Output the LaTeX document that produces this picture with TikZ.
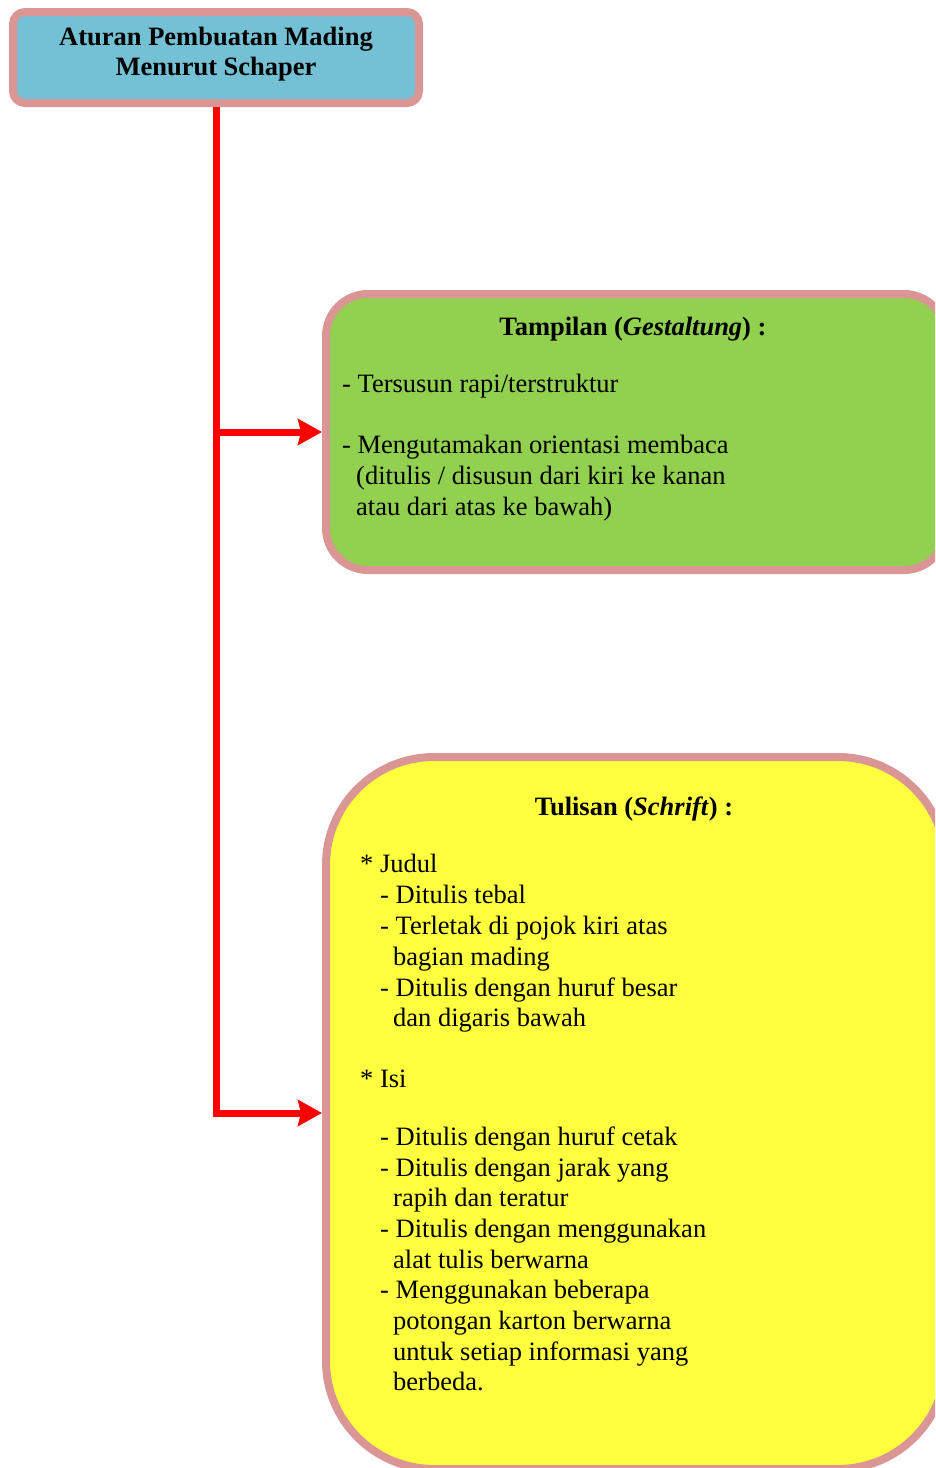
\documentclass[tikz,border=0pt]{standalone}
\usepackage{fontspec}
\setmainfont{Liberation Serif}
\usetikzlibrary{arrows.meta}
\definecolor{pinkb}{HTML}{D99694}
\definecolor{bluef}{HTML}{74C0D4}
\definecolor{greenf}{HTML}{92D050}
\definecolor{yellowf}{HTML}{FFFF40}
\tikzset{
  box/.style={draw=pinkb, line width=8pt, inner sep=0pt, outer sep=0pt},
  conn/.style={draw=red, line width=7pt, line join=miter, -{Stealth[length=24pt,width=26pt,inset=3pt]}, shorten >=4pt},
  txt/.style={anchor=base west, inner sep=0pt, font=\fontsize{26.5}{30.8}\selectfont},
  hd/.style={anchor=base, inner sep=0pt, font=\fontsize{26.5}{30.8}\selectfont\bfseries},
}
\begin{document}
\begin{tikzpicture}[x=1pt,y=-1pt]
\useasboundingbox (0,0) rectangle (935,1468);
\clip (0,0) rectangle (935,1468);

% boxes
\node[box, fill=bluef, rounded corners=12pt, minimum width=406pt, minimum height=91pt] (title) at (216,57.5) {};
\node[box, fill=greenf, rounded corners=42pt, minimum width=620pt, minimum height=276pt] (green) at (636,432) {};
\node[box, fill=yellowf, rounded corners=108pt, minimum width=620pt, minimum height=712pt] (yellow) at (636,1113) {};

% connectors
\coordinate (j1) at (216,432);
\coordinate (j2) at (216,1113);
\draw[conn, shorten <=4pt] (title.south) -- (j2) -- (yellow.west);
\draw[conn] (j1) -- (green.west);

% title text
\node[hd] (t1) at (216,45) {Aturan Pembuatan Mading};
\node[hd] (t2) at (216,75) {Menurut Schaper};

% green text
\node[hd] (g0) at (633,335) {Tampilan (\textit{Gestaltung}) :};
\node[txt] (g1) at (342,392) {- Tersusun rapi/terstruktur};
\node[txt] (g2) at (342,453) {- Mengutamakan orientasi membaca};
\node[txt] (g3) at (356,484) {(ditulis / disusun dari kiri ke kanan};
\node[txt] (g4) at (356,515) {atau dari atas ke bawah)};

% yellow text
\node[hd] (y0) at (634,815) {Tulisan (\textit{Schrift}) :};
\node[txt] (y1) at (360,872) {* Judul};
\node[txt] (y2) at (380,903) {- Ditulis tebal};
\node[txt] (y3) at (380,934) {- Terletak di pojok kiri atas};
\node[txt] (y4) at (393,965) {bagian mading};
\node[txt] (y5) at (380,996) {- Ditulis dengan huruf besar};
\node[txt] (y6) at (393,1026) {dan digaris bawah};
\node[txt] (y7) at (360,1087) {* Isi};
\node[txt] (y8) at (380,1145) {- Ditulis dengan huruf cetak};
\node[txt] (y9) at (380,1176) {- Ditulis dengan jarak yang};
\node[txt] (y10) at (393,1206) {rapih dan teratur};
\node[txt] (y11) at (380,1237) {- Ditulis dengan menggunakan};
\node[txt] (y12) at (393,1268) {alat tulis berwarna};
\node[txt] (y13) at (380,1298) {- Menggunakan beberapa};
\node[txt] (y14) at (393,1329) {potongan karton berwarna};
\node[txt] (y15) at (393,1360) {untuk setiap informasi yang};
\node[txt] (y16) at (393,1390) {berbeda.};
\end{tikzpicture}
\end{document}
